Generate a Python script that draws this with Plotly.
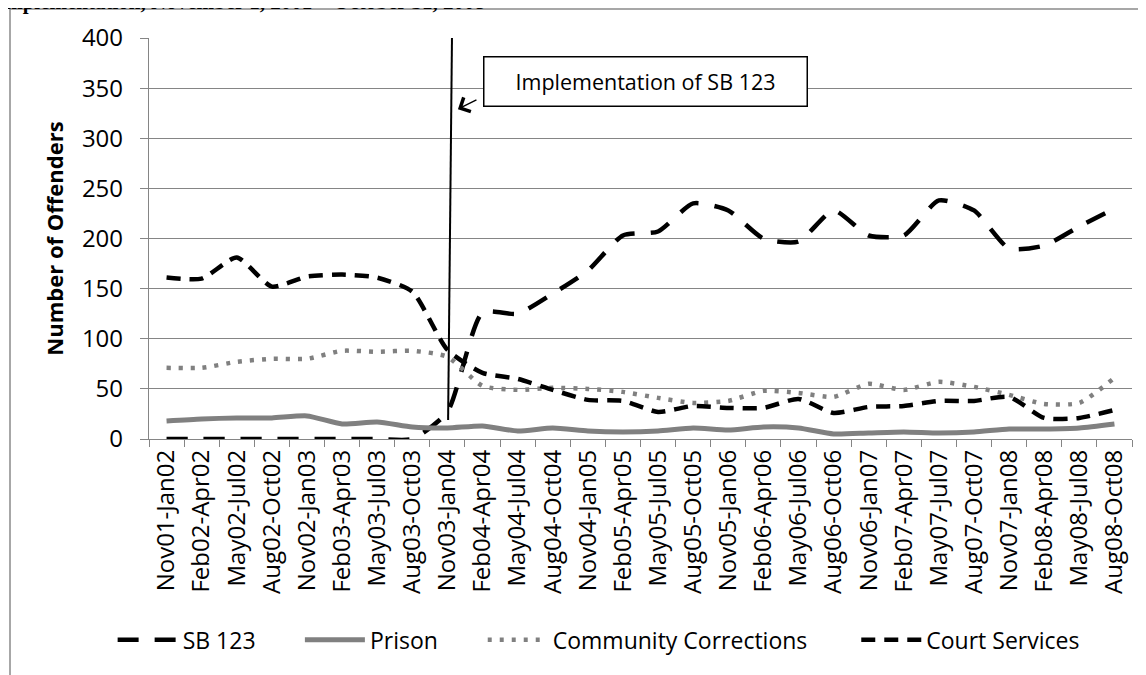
import plotly.graph_objects as go

categories = ["Nov01-Jan02", "Feb02-Apr02", "May02-Jul02", "Aug02-Oct02",
              "Nov02-Jan03", "Feb03-Apr03", "May03-Jul03", "Aug03-Oct03",
              "Nov03-Jan04", "Feb04-Apr04", "May04-Jul04", "Aug04-Oct04",
              "Nov04-Jan05", "Feb05-Apr05", "May05-Jul05", "Aug05-Oct05",
              "Nov05-Jan06", "Feb06-Apr06", "May06-Jul06", "Aug06-Oct06",
              "Nov06-Jan07", "Feb07-Apr07", "May07-Jul07", "Aug07-Oct07",
              "Nov07-Jan08", "Feb08-Apr08", "May08-Jul08", "Aug08-Oct08"]

sb123 = [0, 0, 0, 0, 0, 0, 0, 0,
         27, 126, 125, 145, 168, 203, 207, 235, 228, 200, 197, 228,
         203, 203, 238, 228, 190, 193, 212, 230]
prison = [18, 20, 21, 21, 23, 15, 17, 12, 11, 13, 8, 11, 8, 7, 8, 11,
          9, 12, 11, 5, 6, 7, 6, 7, 10, 10, 11, 15]
community = [71, 71, 77, 80, 80, 88, 87, 88, 82, 53, 49, 51, 50, 47, 41, 36,
             38, 48, 46, 42, 55, 49, 57, 52, 44, 35, 36, 61]
court = [161, 160, 181, 152, 162, 164, 161, 147, 89, 66, 60, 49, 39, 38, 27, 33,
         31, 31, 40, 26, 32, 33, 38, 38, 42, 21, 21, 29]

y_ticks = [0, 50, 100, 150, 200, 250, 300, 350, 400]

FONT = "Open Sans"
GRAY = "#858585"

fig = go.Figure()
fig.add_trace(go.Scatter(x=categories, y=sb123, name="SB 123", mode="lines",
                         legend="legend",
                         line=dict(color="black", width=4.5, dash="21px,16px",
                                   shape="spline", smoothing=0.6),
                         cliponaxis=False))
fig.add_trace(go.Scatter(x=categories, y=prison, name="Prison", mode="lines",
                         legend="legend2",
                         line=dict(color="#808080", width=5,
                                   shape="spline", smoothing=0.6),
                         cliponaxis=False))
fig.add_trace(go.Scatter(x=categories, y=community, name="Community Corrections",
                         mode="lines", legend="legend3",
                         line=dict(color="#808080", width=4.5, dash="4px,8px",
                                   shape="spline", smoothing=0.6),
                         cliponaxis=False))
fig.add_trace(go.Scatter(x=categories, y=court, name="Court Services", mode="lines",
                         legend="legend4",
                         line=dict(color="black", width=4.5, dash="14px,9px",
                                   shape="spline", smoothing=0.6),
                         cliponaxis=False))

leg_common = dict(orientation="h", xanchor="left", y=-0.501, yanchor="middle",
                  font=dict(family=FONT, size=23, color="black"), itemwidth=60,
                  bgcolor="rgba(0,0,0,0)")

fig.update_layout(
    width=1146, height=675,
    margin=dict(l=141, r=22, t=30, b=244),
    paper_bgcolor="white", plot_bgcolor="white",
    font=dict(family=FONT, color="black", size=22),
    showlegend=True,
    legend=dict(x=-0.037, **leg_common),
    legend2=dict(x=0.1535, **leg_common),
    legend3=dict(x=0.3395, **leg_common),
    legend4=dict(x=0.7195, **leg_common),
)
fig.update_xaxes(
    type="category", range=[-0.5, 27.5], tickangle=-90,
    showline=True, linecolor=GRAY, linewidth=1.3,
    ticks="outside", tickson="boundaries", ticklen=7, tickcolor=GRAY,
    showgrid=False, layer="below traces",
    tickfont=dict(family=FONT, size=24, color="black"),
)
fig.update_yaxes(
    range=[0, 400], tickvals=y_ticks, showline=True, linecolor=GRAY, linewidth=1.3,
    ticks="outside", ticklen=8, tickcolor=GRAY, ticklabelstandoff=12,
    showgrid=True, gridcolor=GRAY, gridwidth=1.3, zeroline=False,
    tickfont=dict(family=FONT, size=24, color="black"),
    title=dict(text="<b>Number of Offenders</b>", font=dict(family=FONT, size=22),
               standoff=12),
)

# vertical implementation line
fig.add_shape(type="line", xref="x", yref="y", x0=8.13, y0=400, x1=8.02, y1=19,
              line=dict(color="black", width=2))
# chart frame (left and top edges)
fig.add_shape(type="line", xref="paper", yref="paper", x0=-0.1414, y0=1.0723,
              x1=1.03, y1=1.0723, line=dict(color="#8a8a8a", width=1.5))
fig.add_shape(type="line", xref="paper", yref="paper", x0=-0.1414, y0=1.0723,
              x1=-0.1414, y1=-0.6, line=dict(color="#8a8a8a", width=1.5))

# annotation box
fig.add_annotation(xref="x", yref="y", x=13.65, y=357, text="Implementation of SB 123",
                   showarrow=False, bgcolor="white", bordercolor="black",
                   borderwidth=1.5, borderpad=2, width=318, height=44,
                   font=dict(family=FONT, size=21.5, color="black"))
# arrow to the line
fig.add_annotation(xref="x", yref="y", axref="x", ayref="y", x=8.30, y=329,
                   ax=8.87, ay=339, text="", showarrow=True, arrowhead=4,
                   arrowsize=2.2, arrowwidth=1.4, arrowcolor="black")

# clipped page heading above the chart
fig.add_annotation(xref="paper", yref="paper", x=-0.157, y=1.056, xanchor="left",
                   yanchor="bottom", showarrow=False,
                   text="<b>Implementation, November 1, 2001 – October 31, 2008</b>",
                   font=dict(family="Liberation Serif", size=21, color="black"))

fig.write_html("out.html")
